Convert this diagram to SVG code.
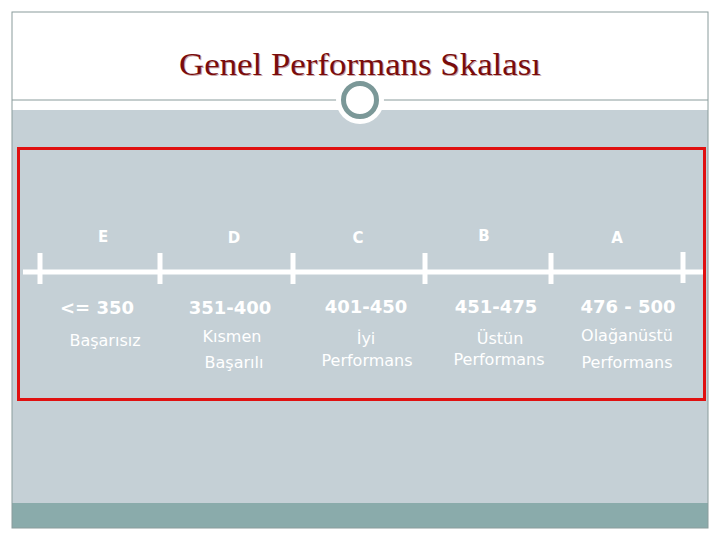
<svg xmlns="http://www.w3.org/2000/svg" width="720" height="540" viewBox="0 0 720 540">
<style>
.letter{font-family:"DejaVu Sans","Liberation Sans",sans-serif;font-weight:bold;font-size:15px;fill:#ffffff;text-anchor:middle}
.num{font-family:"DejaVu Sans","Liberation Sans",sans-serif;font-weight:bold;font-size:18px;fill:#ffffff;text-anchor:middle}
.lbl{font-family:"DejaVu Sans","Liberation Sans",sans-serif;font-size:16px;fill:#ffffff;text-anchor:middle}
.tick{stroke:#ffffff;stroke-width:5}
.title{font-family:"Liberation Serif",serif;font-size:32px;text-anchor:middle}
</style>
<rect x="0" y="0" width="720" height="540" fill="#ffffff"/>
<rect x="12" y="110" width="696" height="418" fill="#c5d0d6"/>
<rect x="12" y="503" width="696" height="25" fill="#8aabab"/>
<rect x="12" y="12" width="696" height="516" fill="none" stroke="#8a9c9c" stroke-width="1"/>
<line x1="12" y1="100" x2="708" y2="100" stroke="#8a9c9c" stroke-width="1"/>
<text class="title" x="361" y="76" fill="#c9a8a8" textLength="362" lengthAdjust="spacingAndGlyphs">Genel Performans Skalası</text>
<text class="title" x="360" y="75" fill="#7a0c0c" textLength="362" lengthAdjust="spacingAndGlyphs">Genel Performans Skalası</text>
<circle cx="360" cy="100" r="24" fill="#ffffff"/>
<circle cx="360" cy="100" r="16.5" fill="#ffffff" stroke="#7b9898" stroke-width="5"/>
<rect x="18.5" y="148.5" width="686" height="251" fill="none" stroke="#e01010" stroke-width="3"/>
<g id="connectors">
<line x1="23" y1="272" x2="703" y2="272" stroke="#ffffff" stroke-width="5"/>
<line class="tick" x1="40" y1="253" x2="40" y2="284"/>
<line class="tick" x1="160" y1="253" x2="160" y2="284"/>
<line class="tick" x1="293" y1="253" x2="293" y2="284"/>
<line class="tick" x1="425" y1="253" x2="425" y2="284"/>
<line class="tick" x1="551" y1="253" x2="551" y2="284"/>
<line class="tick" x1="683" y1="252" x2="683" y2="283"/>
</g>
<g id="E">
<text class="letter" x="103" y="242">E</text>
<text class="num" x="97" y="314">&lt;= 350</text>
<text class="lbl" x="105" y="346">Başarısız</text>
</g>
<g id="D">
<text class="letter" x="234" y="243">D</text>
<text class="num" x="230" y="314">351-400</text>
<text class="lbl" x="232" y="342">Kısmen</text>
<text class="lbl" x="234" y="368">Başarılı</text>
</g>
<g id="C">
<text class="letter" x="358" y="243">C</text>
<text class="num" x="366" y="313">401-450</text>
<text class="lbl" x="366" y="344">İyi</text>
<text class="lbl" x="367" y="366">Performans</text>
</g>
<g id="B">
<text class="letter" x="484" y="241">B</text>
<text class="num" x="496" y="313">451-475</text>
<text class="lbl" x="500" y="344">Üstün</text>
<text class="lbl" x="499" y="365">Performans</text>
</g>
<g id="A">
<text class="letter" x="617" y="243">A</text>
<text class="num" x="628" y="313">476 - 500</text>
<text class="lbl" x="627" y="341">Olağanüstü</text>
<text class="lbl" x="627" y="368">Performans</text>
</g>
</svg>
